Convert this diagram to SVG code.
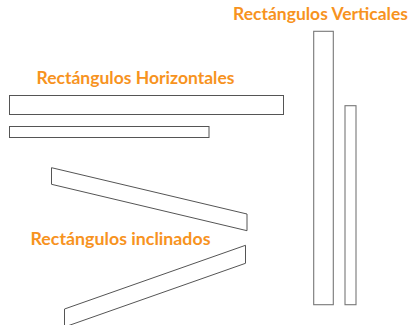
<svg xmlns="http://www.w3.org/2000/svg" width="410" height="325" viewBox="0 0 410 325">
<style>
.t{font-family:Lato,"Open Sans",sans-serif;font-weight:bold;font-size:16.5px;fill:#F7931E}
.s{fill:none;stroke:#555;stroke-width:1}
.v{fill:none;stroke:#777;stroke-width:1.1}
</style>
<rect width="410" height="325" fill="#fff"/>
<g id="label-vert"><text class="t" x="233" y="20" textLength="175" lengthAdjust="spacingAndGlyphs">Rectángulos Verticales</text></g>
<g id="label-horiz"><text class="t" x="36.5" y="84" textLength="198" lengthAdjust="spacingAndGlyphs">Rectángulos Horizontales</text></g>
<g id="label-incl"><text class="t" x="30.5" y="245" textLength="180" lengthAdjust="spacingAndGlyphs">Rectángulos inclinados</text></g>
<g id="h1"><rect class="s" x="9.5" y="95.5" width="274" height="19"/></g>
<g id="h2"><rect class="s" x="9.5" y="126.5" width="199.5" height="11"/></g>
<g id="v1"><rect class="v" x="313.7" y="31.3" width="19.6" height="273.4"/></g>
<g id="v2"><rect class="v" x="345" y="105.7" width="11" height="199"/></g>
<g id="i1"><polygon class="s" points="51.5,167.7 247,214 247,230.7 51.5,184.3"/></g>
<g id="i2"><polygon class="s" points="64.5,309 245.5,245.3 245.5,263.3 64.5,327"/></g>
</svg>
